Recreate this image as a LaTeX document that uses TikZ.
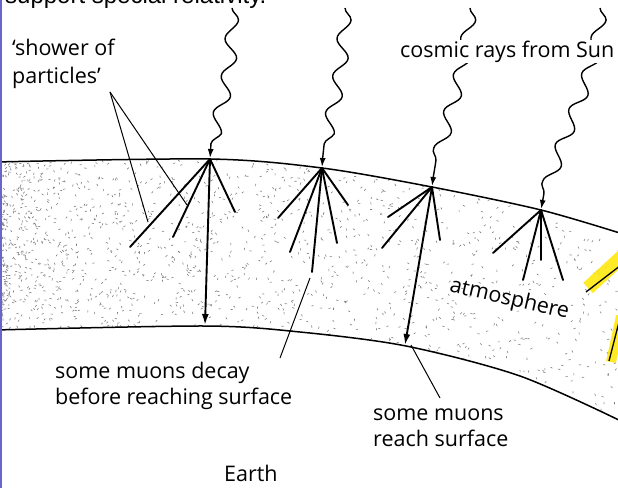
\documentclass[tikz,border=0pt]{standalone}
\usepackage{fontspec}
\setmainfont{Open Sans}
\newfontfamily\capfont{Liberation Sans}
\usetikzlibrary{decorations.pathmorphing,arrows.meta}

\tikzset{
  txt/.style={anchor=base west, inner sep=0pt, font=\fontsize{21.5}{25}\selectfont},
  rim/.style={line width=1.5pt},
  ray/.style={line width=1.4pt, decorate,
    decoration={snake, amplitude=6.5pt, segment length=38pt, post length=10pt},
    -{Latex[length=9pt,width=6pt]}, shorten >=1pt},
  track/.style={line width=1.9pt, line cap=round},
  muon/.style={line width=1.9pt, -{Latex[length=11pt,width=7pt]}},
  pointer/.style={line width=1pt},
  speck/.style={black!50, line width=0.6pt},
  marker/.style={yellow!90!orange, opacity=0.85, line width=14pt},
}

\begin{document}
\begin{tikzpicture}[x=1pt,y=-1pt]
\useasboundingbox (0,0) rectangle (618,488);
\fill[white] (0,0) rectangle (618,488);

\begin{scope}
\clip (0,0) rectangle (618,488);
\node[anchor=base west, inner sep=0pt, font=\capfont\fontsize{24}{28}\selectfont] (caption) at (5,3.5) {support special relativity.};

\coordinate (p1) at (210,159);
\coordinate (p2) at (322,168);
\coordinate (p3) at (432,187);
\coordinate (p4) at (541,210);

\begin{scope}
\clip plot[smooth] coordinates {(-5,162) (210,159) (322,168) (432,187) (541,210) (623,234)}
  -- plot[smooth] coordinates {(623,422) (520,376) (406,346) (300,332) (205,326) (-5,330)} -- cycle;
\pgfmathsetseed{42}
\foreach \i in {1,...,2600}{
  \pgfmathsetmacro\sx{640*rnd^1.8}
  \pgfmathsetmacro\sy{150+280*rnd}
  \pgfmathsetmacro\sa{360*rnd}
  \draw[speck] (\sx,\sy) -- ++(\sa:2.2);
}
\end{scope}

\draw[rim] plot[smooth] coordinates {(-5,162) (210,159) (322,168) (432,187) (541,210) (623,234)};
\draw[rim] plot[smooth] coordinates {(-5,330) (205,326) (300,332) (406,346) (520,376) (623,422)};

\draw[marker] (588,288) -- (625,254);
\draw[line width=1.3pt] (586,292) -- (625,262);
\draw[marker, line width=10pt] (611,362) -- (621,316);
\draw[line width=1.3pt] (609,361) -- (619,322);

\coordinate (r1) at (232,8);
\coordinate (r2) at (345,8);
\coordinate (r3) at (470,8);
\coordinate (r4) at (600,8);
\draw[ray] (r1) .. controls (232,90) and (212,110) .. (p1);
\draw[ray] (r2) .. controls (342,90) and (324,120) .. (p2);
\draw[ray] (r3) .. controls (466,70) and (438,130) .. (p3);
\draw[ray] (r4) .. controls (598,70) and (552,140) .. (p4);

\coordinate (s1a) at (235,212);
\coordinate (s1b) at (173,237);
\coordinate (s1c) at (130,247);
\coordinate (m1) at (205,325);
\foreach \e in {s1a,s1b,s1c} \draw[track] (p1) -- (\e);
\draw[muon] (p1) -- (m1);

\coordinate (s2a) at (278,218);
\coordinate (s2b) at (290,252);
\coordinate (s2c) at (312,272);
\coordinate (s2d) at (337,243);
\coordinate (s2e) at (348,205);
\foreach \e in {s2a,s2b,s2c,s2d,s2e} \draw[track] (p2) -- (\e);

\coordinate (s3a) at (388,217);
\coordinate (s3b) at (382,248);
\coordinate (s3c) at (440,240);
\coordinate (m3) at (405,345);
\foreach \e in {s3a,s3b,s3c} \draw[track] (p3) -- (\e);
\draw[muon] (p3) -- (m3);

\coordinate (s4a) at (493,253);
\coordinate (s4b) at (523,280);
\coordinate (s4c) at (541,260);
\coordinate (s4d) at (563,280);
\foreach \e in {s4a,s4b,s4c,s4d} \draw[track] (p4) -- (\e);

\node[txt] (shower1) at (12,55) {‘shower of};
\node[txt] (shower2) at (12,83) {particles’};
\node[txt, fill=white, inner sep=1pt] (cosmic) at (399,57) {cosmic rays from Sun};
\node[txt, anchor=base, rotate=-13] (atmo) at (508,305) {atmosphere};
\node[txt] (decay1) at (55,378) {some muons decay};
\node[txt] (decay2) at (55,404) {before reaching surface};
\node[txt] (reach1) at (373,420) {some muons};
\node[txt] (reach2) at (373,446) {reach surface};
\node[txt] (earth) at (224,481) {Earth};

\coordinate (showertip) at (110,92);
\coordinate (showerend1) at (148,222);
\coordinate (showerend2) at (187,205);
\coordinate (decaytip) at (310,278);
\coordinate (decayfoot) at (280,358);
\coordinate (reachtip) at (411,345);
\coordinate (reachfoot) at (440,398);
\draw[pointer] (showertip) -- (showerend1);
\draw[pointer] (showertip) -- (showerend2);
\draw[pointer] (decayfoot) -- (decaytip);
\draw[pointer] (reachfoot) -- (reachtip);
\end{scope}

\draw[blue!50!gray!80, line width=1.6pt] (1,0) -- (1,488);
\end{tikzpicture}
\end{document}
